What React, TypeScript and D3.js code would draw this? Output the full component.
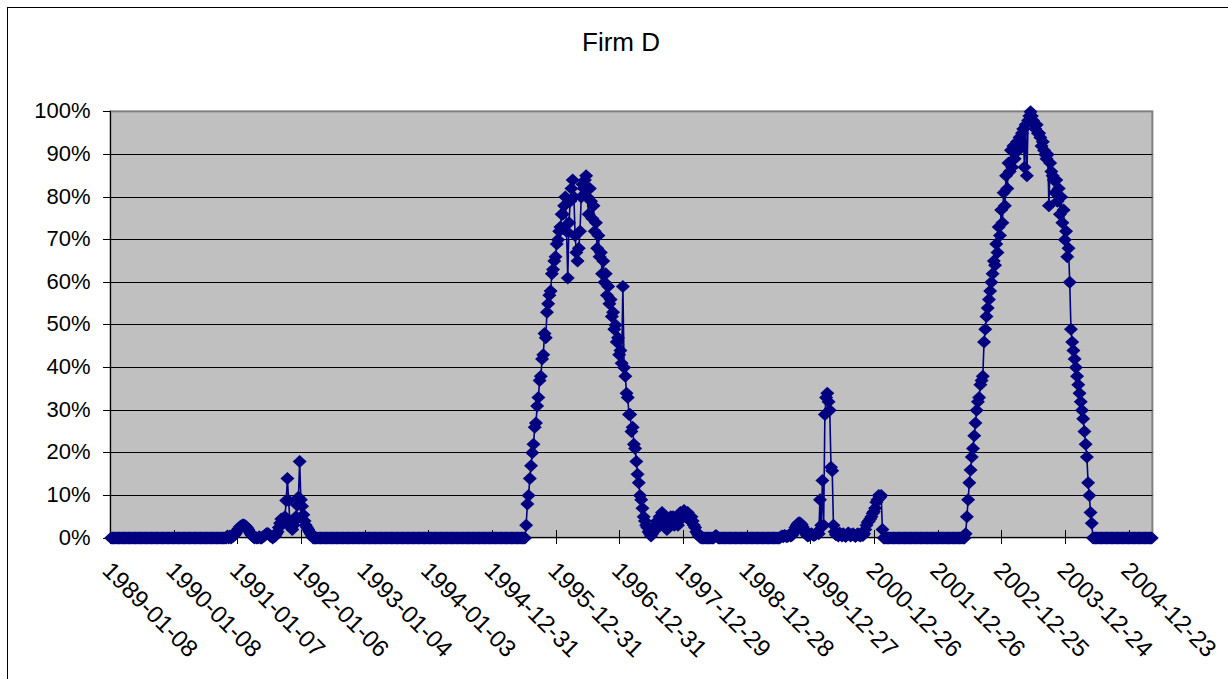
import React from "react";
import * as d3 from "d3";

const title = "Firm D";
const yTickValues = [0, 10, 20, 30, 40, 50, 60, 70, 80, 90, 100];
const xTickLabels = [
  "1989-01-08", "1990-01-08", "1991-01-07", "1992-01-06", "1993-01-04",
  "1994-01-03", "1994-12-31", "1995-12-31", "1996-12-31", "1997-12-29",
  "1998-12-28", "1999-12-27", "2000-12-26", "2001-12-26", "2002-12-25",
  "2003-12-24", "2004-12-23",
];
const labelEvery = 52;

// weekly share (%), index 0 = 1989-01-08
const values = [
  0,0,0,0,0,0,0,0,0,0,
  0,0,0,0,0,0,0,0,0,0,
  0,0,0,0,0,0,0,0,0,0,
  0,0,0,0,0,0,0,0,0,0,
  0,0,0,0,0,0,0,0,0,0,
  0,0,0,0,0,0,0,0,0,0,
  0,0,0,0,0,0,0,0,0,0,
  0,0,0,0,0,0,0,0,0,0,
  0,0,0,0,0,0,0,0,0,0,
  0,0,0,0,0,0.5,0,0.5,0,0.3,
  0.5,0.8,1.2,1.8,2.2,2.6,2.8,3,3.1,3,
  2.8,2.4,2,1.5,1,0.6,0.3,0,0.2,0,
  0,0.3,0,0,0.3,0.5,0.8,1,1.1,0.8,
  0.5,0.3,0,0.3,0.5,1,1.5,2.5,3.5,4.5,
  3.5,4.6,5,8.8,14,8.8,4,2.5,2,3,
  4,5,7.7,9.6,18,9,7.5,5.5,4,3,
  2.5,2,1.5,1,0.5,0,0,0,0,0,
  0,0,0,0,0,0,0,0,0,0,
  0,0,0,0,0,0,0,0,0,0,
  0,0,0,0,0,0,0,0,0,0,
  0,0,0,0,0,0,0,0,0,0,
  0,0,0,0,0,0,0,0,0,0,
  0,0,0,0,0,0,0,0,0,0,
  0,0,0,0,0,0,0,0,0,0,
  0,0,0,0,0,0,0,0,0,0,
  0,0,0,0,0,0,0,0,0,0,
  0,0,0,0,0,0,0,0,0,0,
  0,0,0,0,0,0,0,0,0,0,
  0,0,0,0,0,0,0,0,0,0,
  0,0,0,0,0,0,0,0,0,0,
  0,0,0,0,0,0,0,0,0,0,
  0,0,0,0,0,0,0,0,0,0,
  0,0,0,0,0,0,0,0,0,0,
  0,0,0,0,0,0,0,0,0,3,
  8,10,14,17,20,22,26,27,31,33,
  37,38,42,43,48,47,53,55,57,58,
  62,63,65,66,69,70,72,73,76,76,
  78,80,72,61,74,79,82,84,80,71,
  67,65,68,72,80,83,82,84,85,80,
  76,82,79,75,78,72,74,68,71,66,
  67,62,65,60,62,57,59,55,56,52,
  53,49,50,46,47,43,44,41,59,40,
  38,34,33,29,29,25,26,22,21,18,
  15,13,10,9,7,5,4,3,2.5,1.5,
  1,0.5,1,2,3,2,4,3,5,4,
  6,5,3,4,2,4,3,5,4,5,
  3,4,5,3,4,6,5,6,6.5,6,
  5,6,5,4,5,4,3,2.5,1.5,1,
  0.5,0.2,0,0,0,0,0,0,0,0,
  0,0,0,0.3,0.6,0.3,0,0,0,0,
  0,0,0,0,0,0,0,0,0,0,
  0,0,0,0,0,0,0,0,0,0,
  0,0,0,0,0,0,0,0,0,0,
  0,0,0,0,0,0,0,0,0,0,
  0,0,0,0,0,0,0,0.3,0.5,0.3,
  0.6,0.5,0.3,0.5,0.8,0.5,0.6,1,1.8,2.5,
  3,3.4,3.6,3.5,3.2,2.6,2,1.3,0.8,0.5,
  0.6,0.8,1,0.8,0.6,0.8,1,1.5,1,9,
  3,13.5,3,29,33,34,32,30,16.6,15.8,
  3,1.5,0.8,1,0.5,1.2,0.8,0.5,1,0.6,
  0.4,0.8,1.2,1,0.5,0.8,1,0.6,0.4,0.8,
  1,0.6,0.5,1,0.6,1,2,3,3.7,4,
  4.5,5,5.8,6.2,7,8.4,9,10,9.5,10,
  2,0,0,0,0,0,0,0,0,0,
  0,0,0,0,0,0,0,0,0,0,
  0,0,0,0,0,0,0,0,0,0,
  0,0,0,0,0,0,0,0,0,0,
  0,0,0,0,0,0,0,0,0,0,
  0,0,0,0,0,0,0,0,0,0,
  0,0,0,0,0,0,0,0,1,5,
  9,13,16,19,21,24,27,30,32,33,
  36,37,38,46,49,52,54,56,58,60,
  62,65,64,69,67,73,71,77,74,81,
  78,85,82,88,86,91,87,92,89,91,
  93,91,94,92,95,96,87,97,85,98,
  99,100,99,98,97,96,97,95,95,94,
  92,93,91,90,89,90,78,88,86,85,
  84,81,84,79,82,76,80,74,77,70,
  72,66,68,60,49,46,44,42,40,38,
  36,34,32,30,28,25,22,19,13,10,
  6,3.5,0,0,0,0,0,0,0,0,
  0,0,0,0,0,0,0,0,0,0,
  0,0,0,0,0,0,0,0,0,0,
  0,0,0,0,0,0,0,0,0,0,
  0,0,0,0,0,0,0,0,0,0,
  0,
];

const FONT = "'Liberation Sans', Arial, Helvetica, sans-serif";
const NAVY = "#000080";

export default function App() {
  const W = 1228;
  const H = 679;
  const left = 110.5;
  const bandW = 1.2243;
  const right = left + values.length * bandW;
  const bottom = 538.1;
  const top = 111.85;

  const x = d3
    .scaleBand<number>()
    .domain(values.map((_, i) => i))
    .range([left, right])
    .paddingInner(0)
    .paddingOuter(0);
  const y = d3.scaleLinear().domain([0, 100]).range([bottom, top]);
  const cx = (i: number) => (x(i) as number) + x.bandwidth() / 2;

  const line = d3
    .line<number>()
    .x((_, i) => cx(i))
    .y((d) => y(d));

  const crisp = (v: number) => Math.floor(v) + 0.5;
  const diamond = "M0,-6.5L7,0L0,6.5L-7,0Z";

  const tickIdx = xTickLabels.map((_, k) => k * labelEvery);

  return (
    <div style={{ position: "fixed", left: 0, top: 0 }}>
      <svg width={W} height={H} style={{ display: "block", fontFamily: FONT }}>
        <rect x={0} y={0} width={W} height={H} fill="#fff" />
        <rect x={7.5} y={7.5} width={1400} height={1000} fill="#fff" stroke="#000" strokeWidth={1} />
        <text x={621} y={51} textAnchor="middle" fontSize={26} fill="#000">
          {title}
        </text>

        {/* plot area */}
        <rect
          x={left}
          y={top - 0.5}
          width={right - left}
          height={bottom - top}
          fill="#C0C0C0"
          stroke="#808080"
          strokeWidth={2}
        />
        {yTickValues
          .filter((v) => v > 0 && v < 100)
          .map((v) => (
            <line
              key={"g" + v}
              x1={left}
              x2={right}
              y1={crisp(y(v))}
              y2={crisp(y(v))}
              stroke="#000"
              strokeWidth={1}
            />
          ))}

        {/* y axis */}
        <line x1={110.5} x2={110.5} y1={top - 1} y2={bottom} stroke="#000" strokeWidth={1} />
        {yTickValues.map((v) => (
          <g key={"yt" + v}>
            <line x1={103} x2={110.5} y1={crisp(y(v))} y2={crisp(y(v))} stroke="#000" strokeWidth={1} />
            <text x={90.5} y={crisp(y(v)) + 6} textAnchor="end" fontSize={22} fill="#000">
              {v + "%"}
            </text>
          </g>
        ))}

        {/* x axis */}
        <line x1={left} x2={right} y1={crisp(bottom) - 1} y2={crisp(bottom) - 1} stroke="#000" strokeWidth={1} />
        {tickIdx.map((idx) => (
          <line
            key={"xt" + idx}
            x1={crisp(x(idx) as number)}
            x2={crisp(x(idx) as number)}
            y1={530}
            y2={544}
            stroke="#000"
            strokeWidth={1}
          />
        ))}
        {tickIdx.map((idx, k) => (
          <text
            key={"xl" + idx}
            transform={`translate(${cx(idx) - 10},572) rotate(45)`}
            textAnchor="start"
            fontSize={24}
            fill="#000"
          >
            {xTickLabels[k]}
          </text>
        ))}

        {/* series */}
        <path d={line(values) || ""} fill="none" stroke={NAVY} strokeWidth={1.6} />
        {values.map((v, i) => (
          <path key={"m" + i} d={diamond} transform={`translate(${cx(i)},${y(v)})`} fill={NAVY} />
        ))}
      </svg>
    </div>
  );
}
